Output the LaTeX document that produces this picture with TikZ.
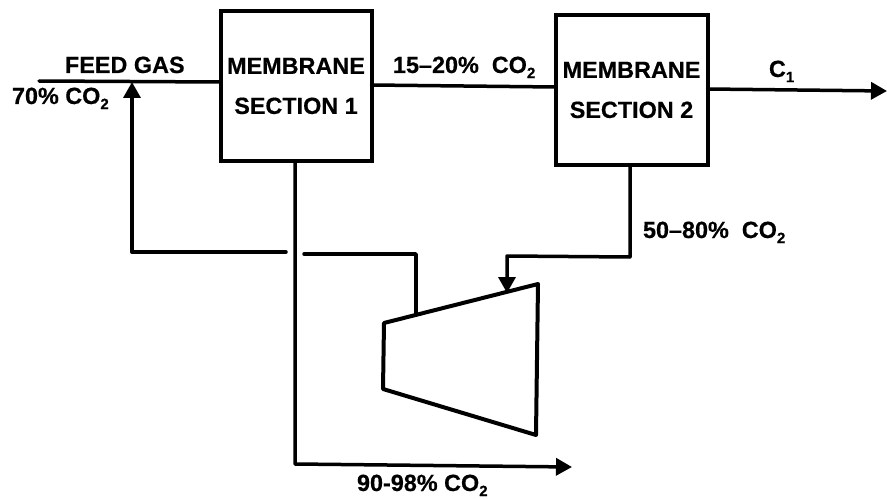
\documentclass[tikz,border=0pt]{standalone}
\usepackage{fontspec}
\setmainfont{Liberation Sans}[BoldFont={Liberation Sans Bold},BoldFeatures={FakeBold=0.5}]
\usetikzlibrary{arrows.meta}
\newcommand{\lowsub}[1]{\raisebox{-0.22em}{\fontsize{15}{15}\selectfont #1}}
\tikzset{
  every node/.style={font=\fontsize{23.4}{40}\selectfont\bfseries, inner sep=0pt, outer sep=0pt},
  flow/.style={line width=3.5pt, line join=round, line cap=round},
  flowarrow/.style={flow, -{Triangle[length=16pt,width=17pt]}},
  membox/.style={draw, line width=4pt, minimum width=151pt, minimum height=150pt, align=center},
  machine/.style={line width=4pt, line join=round},
  lbl/.style={anchor=base west}
}
\begin{document}
\begin{tikzpicture}[x=1pt,y=-1pt]
\useasboundingbox (0,0) rectangle (887,500);
\node[membox] (m1) at (296,86) {MEMBRANE\\SECTION 1};
\node[membox, minimum width=152pt] (m2) at (631.5,90) {MEMBRANE\\SECTION 2};

\coordinate (tA) at (384,323);
\coordinate (tB) at (538,284);
\coordinate (tC) at (536,435);
\coordinate (tD) at (383,389);
\draw[machine] (tA) -- (tB) -- (tC) -- (tD) -- cycle;

\coordinate (feedstart) at (39,81);
\coordinate (feedjoin) at (132,82);
\coordinate (recycleL) at (132,252);
\coordinate (gapL) at (286,252);
\coordinate (gapR) at (304,254);
\coordinate (recycleR) at (416,254);
\coordinate (turbout) at (416,314);
\coordinate (m1down) at (295,464);
\coordinate (co2end) at (572,467);
\coordinate (m2corner) at (630,257);
\coordinate (m2left) at (507,256);
\coordinate (turbin) at (507,293);
\coordinate (c1end) at (887,91);

\draw[flow] (feedstart) -- (m1.west |- 0,82);
\draw[flowarrow] (recycleL) -- (feedjoin);
\draw[flow] (gapL) -- (recycleL);
\draw[flow] (turbout) -- (recycleR) -- (gapR);
\draw[flow] (m1.east |- 0,85) -- (m2.west |- 0,87);
\draw[flowarrow] (m2.east |- 0,89) -- (c1end);
\draw[flowarrow] (m1.south -| m1down) -- (m1down) -- (co2end);
\draw[flowarrow] (m2.south -| m2corner) -- (m2corner) -- (m2left) -- (turbin);

\node[lbl] (feed) at (65,73) {FEED GAS};
\node[lbl] (pct70) at (12,104) {70\% CO\lowsub{2}};
\node[lbl] (pct15) at (393,73) {15–20\%\ \ CO\lowsub{2}};
\node[lbl] (c1) at (769,77) {C\lowsub{1}};
\node[lbl] (pct50) at (643,238) {50–80\%\ \ CO\lowsub{2}};
\node[lbl] (pct90) at (357,491) {90-98\% CO\lowsub{2}};
\end{tikzpicture}
\end{document}
